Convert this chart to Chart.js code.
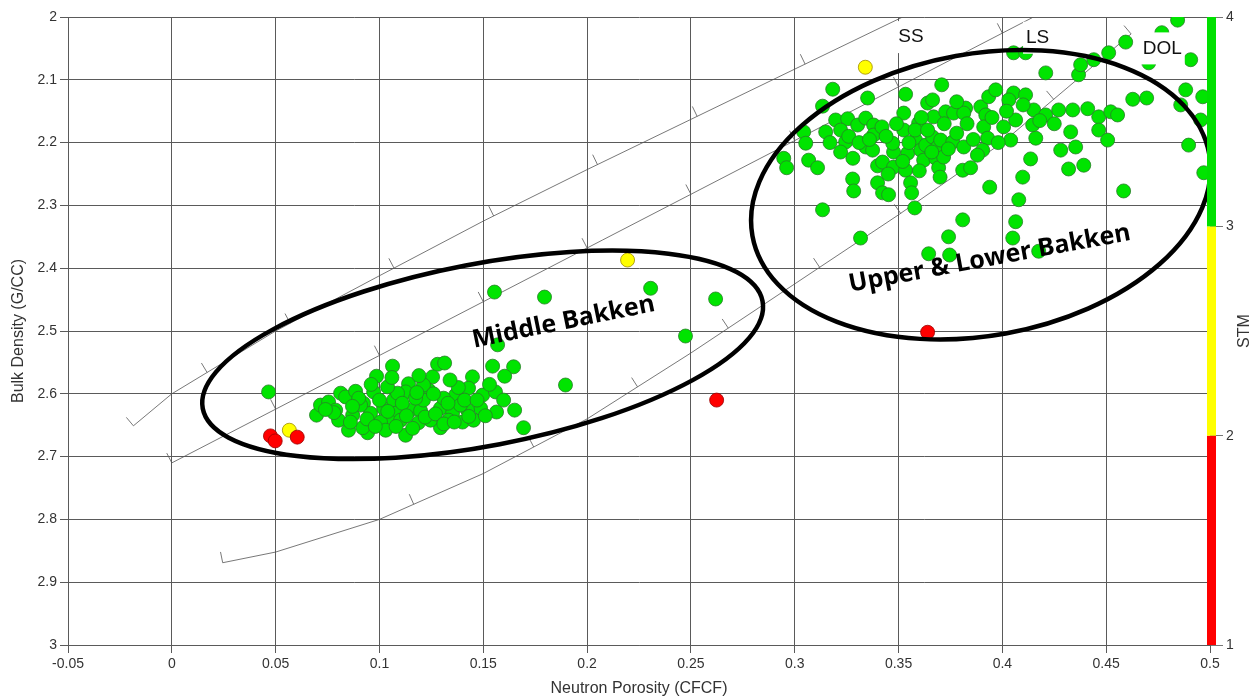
<!DOCTYPE html>
<html>
<head>
<meta charset="utf-8">
<script src="https://cdn.jsdelivr.net/npm/chart.js@4/dist/chart.umd.min.js"></script>
<style>
  html, body { margin: 0; padding: 0; background: #fff; }
  #wrap { width: 1257px; height: 698px; }
</style>
</head>
<body>
<div id="wrap"><canvas id="chart"></canvas></div>
<script>
// axis ticks
const xTickValues = [-0.05, 0, 0.05, 0.1, 0.15, 0.2, 0.25, 0.3, 0.35, 0.4, 0.45, 0.5];
const yTickValues = [2, 2.1, 2.2, 2.3, 2.4, 2.5, 2.6, 2.7, 2.8, 2.9, 3];
const stmTickValues = [1, 2, 3, 4];

// STM colour bands (lower edge, upper edge, colour)
const stmLow = [1, 2, 3];
const stmHigh = [2, 3, 4];
const stmColors = ['#ff0000', '#ffff00', '#00e000'];

// lithology lines (neutron, density)
const ssX = [-0.0185, 0, 0.05, 0.1, 0.15, 0.2, 0.25, 0.3, 0.352];
const ssY = [2.651, 2.6, 2.5, 2.412, 2.325, 2.243, 2.163, 2.083, 2.0];
const lsX = [0, 0.415];
const lsY = [2.71, 2.0];
const dolX = [0.0245, 0.05, 0.1, 0.15, 0.2, 0.25, 0.3, 0.35, 0.4, 0.462];
const dolY = [2.869, 2.852, 2.8, 2.727, 2.64, 2.535, 2.425, 2.315, 2.2, 2.027];

// porosity marks along each line (neutron value)
const ssMarks = [-0.0185, 0.017, 0.057, 0.107, 0.155, 0.205, 0.253, 0.305];
const lsMarks = [0, 0.05, 0.1, 0.15, 0.2, 0.25, 0.3, 0.35, 0.4];
const dolMarks = [0.0245, 0.1165, 0.1743, 0.2243, 0.268, 0.312, 0.351, 0.388, 0.4247, 0.462];

// samples [neutron porosity, bulk density], grouped by STM class
const greenPts = [
  // middle bakken
  [0.0466,2.597],[0.1554,2.438],[0.1795,2.446],[0.1569,2.522],[0.1063,2.556],[0.128,2.553],[0.1314,2.551],
  [0.1545,2.556],[0.1646,2.557],[0.1603,2.572],[0.1448,2.573],[0.1256,2.573],[0.0986,2.572],[0.114,2.584],
  [0.1896,2.586],[0.1429,2.591],[0.1237,2.594],[0.1367,2.602],[0.1497,2.602],[0.1559,2.597],[0.1598,2.61],
  [0.1487,2.623],[0.1294,2.623],[0.1564,2.629],[0.1651,2.626],[0.1694,2.654],[0.14,2.645],[0.1453,2.642],
  [0.1294,2.654],[0.1126,2.666],[0.0943,2.662],[0.0919,2.654],[0.0851,2.658],[0.0697,2.634],[0.0716,2.618],
  [0.0755,2.613],[0.0803,2.642],[0.0813,2.599],[0.0837,2.605],[0.0885,2.596],[0.0923,2.615],[0.0972,2.597],
  [0.0957,2.631],[0.102,2.623],[0.1068,2.61],[0.1078,2.631],[0.115,2.626],[0.1198,2.627],[0.1212,2.61],
  [0.1246,2.642],[0.1188,2.646],[0.1352,2.631],[0.1053,2.645],[0.1005,2.645],[0.1126,2.597],[0.1087,2.599],
  [0.1039,2.589],[0.1212,2.586],[0.1309,2.607],[0.1424,2.626],[0.0789,2.626],[0.0871,2.634],[0.103,2.658],
  [0.1174,2.607],[0.139,2.618],[0.1333,2.642],[0.1102,2.642],[0.0909,2.618],
  [0.078,2.63],[0.086,2.645],[0.09,2.607],[0.094,2.64],[0.098,2.652],[0.1,2.61],[0.104,2.628],[0.108,2.652],
  [0.111,2.615],[0.113,2.635],[0.116,2.655],[0.118,2.598],[0.122,2.637],[0.126,2.6],[0.127,2.632],[0.131,2.648],
  [0.133,2.615],[0.136,2.645],[0.138,2.59],[0.141,2.61],[0.143,2.636],[0.147,2.61],[0.151,2.635],[0.153,2.585],
  [0.106,2.574],[0.119,2.571],[0.134,2.578],[0.096,2.585],[0.087,2.62],[0.074,2.625],
  [0.2306,2.432],[0.2619,2.449],[0.2474,2.508],
  // upper & lower bakken
  [0.3183,2.115],[0.3351,2.129],[0.3134,2.142],[0.3043,2.183],[0.3149,2.183],[0.3053,2.201],[0.3197,2.164],
  [0.3255,2.162],[0.3221,2.18],[0.3245,2.199],[0.3221,2.215],[0.3303,2.172],[0.3342,2.161],[0.338,2.172],
  [0.338,2.188],[0.3342,2.207],[0.3375,2.212],[0.2947,2.225],[0.2961,2.24],[0.3067,2.228],[0.311,2.24],
  [0.3279,2.258],[0.3284,2.277],[0.3399,2.237],[0.3423,2.231],[0.3399,2.264],[0.3423,2.28],[0.3452,2.283],
  [0.3476,2.239],[0.3476,2.215],[0.3472,2.201],[0.3525,2.153],[0.3534,2.123],[0.3708,2.108],[0.3525,2.18],
  [0.3544,2.217],[0.3534,2.244],[0.3558,2.264],[0.3563,2.28],[0.3578,2.304],[0.3597,2.169],[0.3582,2.196],
  [0.3607,2.212],[0.3631,2.204],[0.3621,2.228],[0.364,2.137],[0.3664,2.132],[0.3669,2.159],[0.3664,2.191],
  [0.3689,2.207],[0.3679,2.225],[0.3693,2.24],[0.3717,2.223],[0.3703,2.196],[0.3727,2.151],[0.3765,2.153],
  [0.3761,2.199],[0.3814,2.207],[0.3809,2.244],[0.3847,2.24],[0.3823,2.145],[0.3814,2.153],[0.3896,2.143],
  [0.392,2.156],[0.3934,2.127],[0.3968,2.116],[0.391,2.175],[0.3929,2.193],[0.3905,2.212],[0.4006,2.175],
  [0.404,2.196],[0.4054,2.121],[0.4031,2.132],[0.4064,2.164],[0.4112,2.124],[0.4151,2.148],[0.4146,2.172],
  [0.4161,2.193],[0.4209,2.156],[0.4271,2.148],[0.4339,2.148],[0.4411,2.146],[0.4464,2.159],[0.4522,2.151],
  [0.4555,2.156],[0.4329,2.183],[0.4281,2.212],[0.4353,2.207],[0.4464,2.18],[0.4507,2.196],[0.4319,2.242],
  [0.4392,2.236],[0.4136,2.226],[0.4098,2.255],[0.4079,2.291],[0.4064,2.326],[0.405,2.352],[0.3939,2.271],
  [0.3809,2.323],[0.3741,2.35],[0.3645,2.377],[0.3746,2.379],[0.4175,2.373],[0.4584,2.277],[0.3317,2.352],
  [0.3134,2.307],[0.4209,2.089],[0.4367,2.092],[0.4377,2.076],[0.4628,2.131],[0.4695,2.129],[0.4883,2.116],
  [0.4965,2.127],[0.4859,2.14],[0.4897,2.204],[0.4955,2.164],[0.497,2.248],[0.4054,2.057],[0.4112,2.057],
  [0.444,2.068],[0.4512,2.057],[0.4594,2.04],[0.4844,2.005],[0.4768,2.025],[0.4705,2.073],[0.4907,2.068],
  [0.326,2.19],[0.331,2.2],[0.336,2.195],[0.342,2.175],[0.344,2.19],[0.349,2.17],[0.355,2.2],[0.358,2.18],
  [0.361,2.16],[0.364,2.18],[0.366,2.215],[0.372,2.17],[0.374,2.21],[0.378,2.185],[0.383,2.17],[0.386,2.195],
  [0.388,2.22],[0.395,2.16],[0.398,2.2],[0.402,2.15],[0.41,2.14],[0.418,2.165],[0.425,2.17],[0.352,2.23],
  [0.345,2.25],[0.36,2.245],[0.37,2.255],[0.317,2.2],[0.328,2.225],[0.378,2.135]
];
const yellowPts = [[0.0566,2.658],[0.2195,2.387],[0.334,2.08]];
const redPts = [[0.0475,2.667],[0.0498,2.675],[0.0604,2.669],[0.2624,2.61],[0.364,2.502]];

// annotations
const lithoNames = ['SS', 'LS', 'DOL'];
const lithoNameX = [0.356, 0.417, 0.477];
const lithoNameY = [2.032, 2.033, 2.05];
const zoneNames = ['Middle Bakken', 'Upper & Lower Bakken'];
const zoneTextX = [0.1887, 0.3939];
const zoneTextY = [2.486, 2.385];
const zoneTextAngle = [-11.5, -10.5];
const ellipseX = [0.1497, 0.3896];
const ellipseY = [2.538, 2.283];
const ellipseRx = [285, 232];
const ellipseRy = [91, 141];
const ellipseAngle = [-10.85, -10.2];

const toXY = pts => pts.map(p => ({x: p[0], y: p[1]}));
const zip = (xs, ys) => xs.map((v, i) => ({x: v, y: ys[i]}));

function interp(xs, ys, v) {
  let i = 0;
  while (i < xs.length - 2 && v > xs[i + 1]) i++;
  const t = (v - xs[i]) / (xs[i + 1] - xs[i]);
  return {y: ys[i] + t * (ys[i + 1] - ys[i]), i};
}

const overlay = {
  id: 'overlay',
  beforeDatasetsDraw(chart) {
    const {ctx, chartArea: a, scales: {x, y}} = chart;
    ctx.save();
    ctx.beginPath();
    ctx.rect(a.left, a.top, a.width, a.height);
    ctx.clip();
    ctx.strokeStyle = '#555';
    ctx.lineWidth = 0.8;
    [[ssX, ssY, ssMarks], [lsX, lsY, lsMarks], [dolX, dolY, dolMarks]].forEach(([xs, ys, marks]) => {
      marks.forEach(m => {
        const r = interp(xs, ys, m);
        const px = x.getPixelForValue(m), py = y.getPixelForValue(r.y);
        const dx = x.getPixelForValue(xs[r.i + 1]) - x.getPixelForValue(xs[r.i]);
        const dy = y.getPixelForValue(ys[r.i + 1]) - y.getPixelForValue(ys[r.i]);
        const len = Math.hypot(dx, dy);
        ctx.beginPath();
        ctx.moveTo(px, py);
        ctx.lineTo(px + dy / len * 11, py - dx / len * 11);
        ctx.stroke();
      });
    });
    ctx.restore();
  },
  afterDatasetsDraw(chart) {
    const {ctx, chartArea: a, scales: {x, y}} = chart;
    ctx.save();
    ctx.beginPath();
    ctx.rect(a.left, a.top, a.width, a.height);
    ctx.clip();
    // lithology names on white boxes
    ctx.font = '19px "Liberation Sans", Arial, sans-serif';
    ctx.textAlign = 'center';
    ctx.textBaseline = 'middle';
    lithoNames.forEach((t, i) => {
      const px = x.getPixelForValue(lithoNameX[i]), py = y.getPixelForValue(lithoNameY[i]);
      const w = ctx.measureText(t).width + 6;
      ctx.fillStyle = '#fff';
      ctx.fillRect(px - w / 2, py - 16, w, 32);
      ctx.fillStyle = '#111';
      ctx.fillText(t, px, py);
    });
    // zone ellipses
    ctx.strokeStyle = '#000';
    ctx.lineWidth = 4.5;
    ellipseX.forEach((v, i) => {
      ctx.beginPath();
      ctx.ellipse(x.getPixelForValue(v), y.getPixelForValue(ellipseY[i]), ellipseRx[i], ellipseRy[i],
        ellipseAngle[i] * Math.PI / 180, 0, Math.PI * 2);
      ctx.stroke();
    });
    // zone names
    ctx.font = 'bold 25px "Open Sans", sans-serif';
    ctx.fillStyle = '#000';
    zoneNames.forEach((t, i) => {
      ctx.save();
      ctx.translate(x.getPixelForValue(zoneTextX[i]), y.getPixelForValue(zoneTextY[i]));
      ctx.rotate(zoneTextAngle[i] * Math.PI / 180);
      ctx.fillText(t, 0, 0);
      ctx.restore();
    });
    ctx.restore();
  },
  afterDraw(chart) {
    const {ctx, chartArea: a, scales: {stm}} = chart;
    ctx.save();
    stmLow.forEach((lo, i) => {
      const top = stm.getPixelForValue(stmHigh[i]), bot = stm.getPixelForValue(lo);
      ctx.fillStyle = stmColors[i];
      ctx.fillRect(a.right - 3, top, 9, bot - top);
    });
    ctx.font = '16px "Liberation Sans", Arial, sans-serif';
    ctx.fillStyle = '#333';
    ctx.textAlign = 'center';
    ctx.textBaseline = 'middle';
    ctx.translate(1245, (a.top + a.bottom) / 2);
    ctx.rotate(-Math.PI / 2);
    ctx.fillText('STM', 0, 0);
    ctx.restore();
  }
};

Chart.defaults.font.family = '"Liberation Sans", Arial, sans-serif';
Chart.defaults.color = '#333';

const pointStyle = (fill, edge) => ({
  backgroundColor: fill, borderColor: edge, borderWidth: 0.8, pointRadius: 7, showLine: false, order: 1
});
const lineStyle = {borderColor: '#555', borderWidth: 0.8, pointRadius: 0, showLine: true, tension: 0, order: 10};

const ctx = document.getElementById('chart');
new Chart(ctx, {
  type: 'scatter',
  data: {
    datasets: [
      {label: 'SS', data: zip(ssX, ssY), ...lineStyle},
      {label: 'LS', data: zip(lsX, lsY), ...lineStyle},
      {label: 'DOL', data: zip(dolX, dolY), ...lineStyle},
      {label: 'STM 1-2', data: toXY(redPts), ...pointStyle('#ff0000', '#9a0000')},
      {label: 'STM 2-3', data: toXY(yellowPts), ...pointStyle('#ffff00', '#a08c00')},
      {label: 'STM 3-4', data: toXY(greenPts), ...pointStyle('#00e400', '#2a7d2a')}
    ]
  },
  options: {
    responsive: true,
    maintainAspectRatio: false,
    animation: false,
    events: [],
    layout: {padding: {top: 17, left: 0, right: 0, bottom: 0}},
    plugins: {legend: {display: false}, tooltip: {enabled: false}},
    scales: {
      x: {
        type: 'linear', min: -0.05, max: 0.5,
        afterBuildTicks: s => { s.ticks = xTickValues.map(v => ({value: v})); },
        afterFit: s => { s.height = 53; },
        ticks: {autoSkip: false, maxRotation: 0, font: {size: 14}, padding: 3,
          callback: v => String(Number(v.toFixed(2)))},
        grid: {color: '#5a5a5a', lineWidth: 1, tickLength: 8},
        border: {color: '#5a5a5a'},
        title: {display: true, text: 'Neutron Porosity (CFCF)', font: {size: 16}, padding: {top: 0, bottom: 0}}
      },
      y: {
        type: 'linear', min: 2, max: 3, reverse: true,
        afterBuildTicks: s => { s.ticks = yTickValues.map(v => ({value: v})); },
        afterFit: s => { s.width = 68; },
        ticks: {autoSkip: false, font: {size: 14}, padding: 3,
          callback: v => String(Number(v.toFixed(1)))},
        grid: {color: '#5a5a5a', lineWidth: 1, tickLength: 8},
        border: {color: '#5a5a5a'},
        title: {display: true, text: 'Bulk Density (G/CC)', font: {size: 16}, padding: {top: 9, bottom: 0}}
      },
      stm: {
        type: 'linear', position: 'right', min: 1, max: 4,
        afterBuildTicks: s => { s.ticks = stmTickValues.map(v => ({value: v})); },
        afterFit: s => { s.width = 47; },
        ticks: {font: {size: 14}, padding: 3},
        grid: {drawOnChartArea: false, color: '#777', tickLength: 13},
        border: {display: false}
      }
    }
  },
  plugins: [overlay]
});
</script>
</body>
</html>
